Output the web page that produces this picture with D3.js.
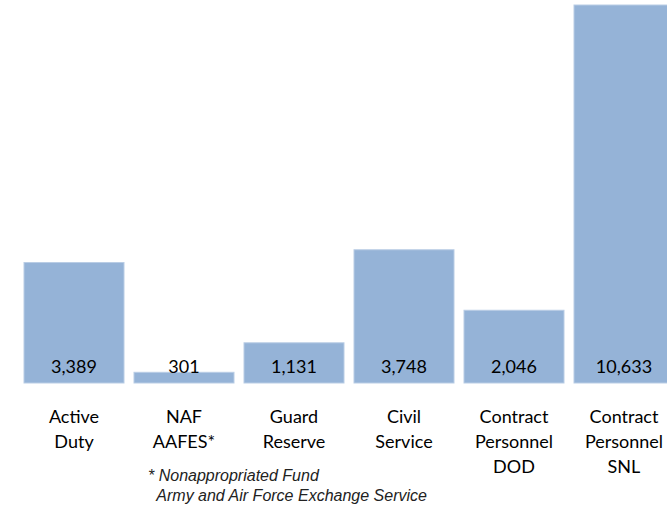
<!DOCTYPE html>
<html>
<head>
<meta charset="utf-8">
<script src="https://cdn.jsdelivr.net/npm/d3@7"></script>
<style>
  body { margin: 0; background: #fff; }
</style>
</head>
<body>
<div id="chart"></div>
<script>
var width = 667,
    height = 508;

var categories = ["Active Duty", "NAF AAFES", "Guard Reserve", "Civil Service", "Contract Personnel DOD", "Contract Personnel SNL"];
var labelLines = [["Active", "Duty"], ["NAF", "AAFES*"], ["Guard", "Reserve"], ["Civil", "Service"], ["Contract", "Personnel", "DOD"], ["Contract", "Personnel", "SNL"]];
var values = [3389, 301, 1131, 3748, 2046, 10633];
var footnote = ["* Nonappropriated Fund", "  Army and Air Force Exchange Service"];

var svg = d3.select("#chart").append("svg")
  .attr("width", width)
  .attr("height", height);

var x = d3.scaleBand()
  .domain(categories)
  .range([19, 679])
  .paddingInner(10 / 110)
  .paddingOuter(5 / 110);

var y = d3.scaleLinear()
  .domain([0, d3.max(values)])
  .range([383, 5]);

var data = categories.map(function(c, i) {
  return { cat: c, value: values[i], lines: labelLines[i] };
});

// bars
svg.selectAll("rect")
  .data(data)
  .enter()
  .append("rect")
  .attr("x", function(d) { return x(d.cat); })
  .attr("y", function(d) { return y(d.value); })
  .attr("width", x.bandwidth())
  .attr("height", function(d) { return y(0) - y(d.value); })
  .style("fill", "#95b3d7")
  .style("stroke", "#b9cde5")
  .style("stroke-width", 1);

// value labels inside the bars
svg.selectAll(".val")
  .data(data)
  .enter()
  .append("text")
  .attr("class", "val")
  .attr("x", function(d) { return x(d.cat) + x.bandwidth() / 2; })
  .attr("y", 373)
  .attr("text-anchor", "middle")
  .style("font", "18px Lato")
  .style("fill", "#000")
  .text(function(d) { return d3.format(",")(d.value); });

// category labels
var cat = svg.selectAll(".cat")
  .data(data)
  .enter()
  .append("text")
  .attr("class", "cat")
  .attr("text-anchor", "middle")
  .style("font", "18px Lato")
  .style("fill", "#000");

cat.selectAll("tspan")
  .data(function(d) {
    return d.lines.map(function(l) { return { t: l, cx: x(d.cat) + x.bandwidth() / 2 }; });
  })
  .enter()
  .append("tspan")
  .attr("x", function(d) { return d.cx; })
  .attr("y", function(d, i) { return 423 + i * 25; })
  .text(function(d) { return d.t; });

// footnote
svg.selectAll(".note")
  .data(footnote)
  .enter()
  .append("text")
  .attr("class", "note")
  .attr("x", 148)
  .attr("y", function(d, i) { return 481 + i * 20; })
  .style("font", "italic 16px 'Liberation Sans'")
  .style("white-space", "pre")
  .style("fill", "#222")
  .text(function(d) { return d; });
</script>
</body>
</html>
